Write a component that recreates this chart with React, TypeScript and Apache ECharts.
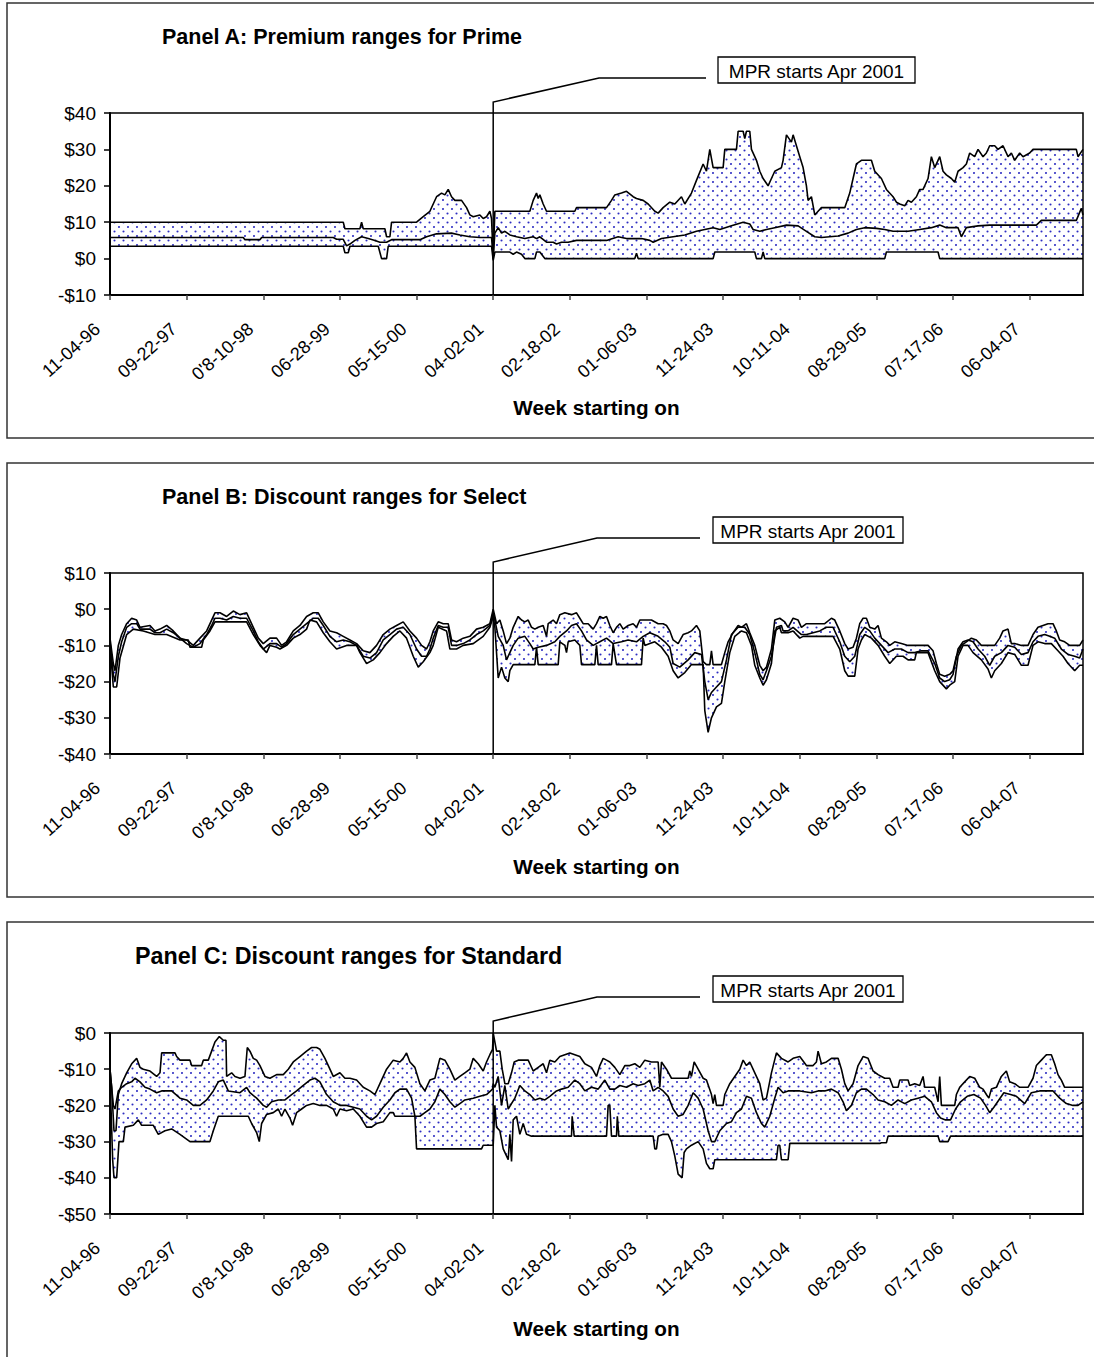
import React, { useEffect, useRef } from 'react';
import * as echarts from 'echarts';

// ---------- data ----------
const xLabels = ['11-04-96', '09-22-97', "0'8-10-98", '06-28-99', '05-15-00', '04-02-01', '02-18-02', '01-06-03', '11-24-03', '10-11-04', '08-29-05', '07-17-06', '06-04-07'];
const weeksPerLabel = 46;
const lastWeek = 584;
const mprWeek = 230;

type P = [number, number][];

const aUpper: P = [[0,10],[140,10],[141,8.2],[150,8.2],[151,10],[152,8.2],[165,8.2],[166,6],[168,6],[169,10],[184,10],[188,11.5],[192,13],[196,17],[199,18],[201,17.5],[203,19],[205,17],[207,16],[211,16],[214,14],[216,12],[218,11.5],[222,12],[224,11],[226,11.5],[228,13],[229,11],[230,0],[231,13],[252,13],[254,16],[256,18],[257,16.5],[258,17.5],[260,15],[262,13],[279,13],[280,14],[298,14],[301,16],[303,17.5],[307,18],[310,18.5],[314,17],[316,16.5],[320,16],[323,15],[327,13],[329,12.5],[332,14],[336,15.5],[339,15],[343,17],[345,15],[349,18],[352,21.5],[356,26],[358,24],[360,30],[362,25],[368,25],[369,30],[376,30],[377,35],[380,35],[381,33],[382,35],[384,35],[385,30],[388,27],[390,24],[392,22],[395,20],[397,22],[399,24],[403,25],[404,27],[406,34],[409,32],[410,34],[412,31],[414,28],[416,25],[418,20],[419,16],[421,17],[423,12],[425,13],[427,14],[441,14],[444,18],[446,22],[448,26],[451,27],[457,27],[459,24],[463,22],[466,19],[470,17],[472,15.5],[474,15],[477,14.5],[479,16],[481,15.5],[484,17],[486,19],[488,19],[491,22],[493,28],[495,25],[498,28],[500,24],[502,23],[505,22],[507,21],[509,24],[512,25],[514,26],[516,29],[519,28],[521,30],[524,28],[526,29],[528,31],[531,31],[533,30],[536,31],[539,28],[541,29],[543,27],[546,29],[548,28],[552,29],[554,30],[580,30],[581,28],[584,30]];
const aMid: P = [[0,5.8],[80,5.8],[81,5.2],[90,5.2],[91,5.8],[134,5.8],[136,5.3],[140,5.3],[142,3.5],[144,4],[147,5],[151,6],[155,5.5],[159,5],[162,4.5],[166,4.5],[169,5.2],[186,5.2],[190,6],[196,6.8],[205,7],[210,6.5],[216,6],[222,5.8],[229,5.8],[230,0.5],[231,7],[233,8.5],[235,7],[237,7.5],[240,6.5],[244,6],[249,5.5],[254,6],[256,5.5],[258,6],[262,4.5],[266,4.5],[268,4],[271,4.5],[275,4.5],[280,5],[298,5],[305,6],[310,5.5],[319,5.5],[324,5],[326,4.5],[331,5.5],[338,6],[345,6.5],[352,7.5],[362,8.5],[366,8],[373,9],[380,10],[384,9.5],[386,8],[390,7.5],[394,8],[399,8.5],[406,9.2],[413,9],[418,7.5],[423,6],[427,5.8],[437,6.2],[443,7],[448,8],[453,8.5],[460,8.3],[465,8],[470,7.5],[479,7.5],[486,8],[493,8.5],[498,9.2],[502,8.5],[509,8.5],[511,6],[514,8.5],[521,9],[528,9.2],[556,9.2],[559,10.5],[580,10.5],[583,13.8],[584,12]];
const aLower: P = [[0,3.4],[140,3.4],[141,1.6],[143,1.6],[144,3.4],[161,3.4],[163,0],[166,0],[167,3.4],[229,3.4],[230,-0.5],[231,1.8],[240,1.8],[242,1.2],[244,1.8],[247,1.2],[249,0],[255,0],[256,1.8],[258,1.8],[261,0],[315,0],[316,1.5],[317,0],[362,0],[363,1.8],[387,1.8],[388,0],[391,0],[392,1.8],[393,0],[465,0],[466,1.8],[497,1.8],[498,0],[584,0]];

const bUpper: P = [[0,-8],[2,-15],[3,-17],[5,-10],[7,-7],[10,-4],[13,-2.5],[16,-3],[18,-5],[24,-4.5],[27,-6],[30,-5.5],[34,-4.5],[38,-6],[42,-8],[46,-8.5],[50,-10],[54,-8],[58,-6],[61,-3],[63,-1],[66,-1],[70,-2],[74,-0.5],[78,-1.5],[82,-1],[86,-5],[89,-8],[92,-9.5],[96,-8],[100,-8],[103,-10],[106,-9],[110,-6],[114,-4.5],[118,-2],[122,-1],[125,-1],[128,-3.5],[132,-6],[136,-6.5],[140,-7.5],[144,-8.5],[148,-9.5],[152,-11.5],[156,-12],[160,-10],[164,-7],[168,-5.5],[172,-4.5],[176,-3.5],[180,-6],[184,-8],[187,-10],[190,-11],[192,-9],[194,-6],[197,-3.5],[200,-4],[203,-4],[205,-8.5],[208,-9],[212,-8],[216,-7.5],[220,-5.5],[224,-5],[228,-4],[230,0],[232,-4],[234,-3],[236,-6],[238,-9.5],[240,-8],[242,-5],[245,-2],[247,-3],[249,-3.5],[251,-3],[253,-5],[255,-5.5],[257,-5],[260,-4.5],[262,-7.5],[263,-4],[266,-3],[268,-4],[270,-1.5],[273,-1],[277,-1.5],[280,-1],[282,-2.5],[284,-4],[287,-4],[290,-5.5],[292,-4],[294,-2],[296,-2.5],[298,-2],[300,-4.5],[302,-6.5],[304,-5],[306,-4],[308,-5.5],[311,-4.5],[314,-4],[316,-5],[318,-3],[321,-3],[325,-3],[329,-4],[332,-4],[334,-4.5],[336,-6],[338,-8.5],[341,-9.5],[344,-7],[347,-6.5],[349,-6],[352,-4.5],[354,-6],[356,-14.5],[358,-15.3],[360,-15.3],[361,-11.5],[362,-15.3],[367,-15.3],[369,-12],[371,-9],[374,-6.5],[377,-4.5],[379,-5],[382,-4],[384,-6.5],[387,-10],[390,-15.5],[392,-17],[394,-16],[397,-11],[399,-3],[402,-2.5],[405,-3.5],[407,-5],[410,-2.5],[413,-3],[415,-5],[418,-4],[421,-4],[425,-4],[429,-4],[433,-2.5],[435,-3],[438,-6],[441,-9.5],[443,-11],[446,-10.5],[448,-8],[450,-4],[452,-2.5],[454,-2.5],[456,-5],[459,-5.5],[461,-4.5],[463,-8],[466,-9],[468,-10],[471,-9],[475,-9.5],[479,-10],[491,-10],[494,-11.5],[496,-15],[498,-18],[501,-18.5],[504,-18],[506,-17],[508,-13],[511,-10],[514,-9],[517,-8],[520,-8.5],[523,-10],[531,-10],[534,-8],[536,-6],[539,-5.5],[541,-9.5],[543,-9.5],[547,-10],[551,-10],[554,-7],[557,-5],[560,-4.5],[563,-4],[566,-4],[568,-6],[570,-8.5],[573,-9],[576,-10],[582,-10],[584,-8.5]];
const bMid: P = [[0,-9],[2,-18],[3,-20],[5,-13],[7,-9],[10,-5],[13,-4],[16,-4],[18,-5.5],[24,-5.5],[27,-6.5],[30,-6.5],[34,-5.5],[38,-6.5],[42,-8],[46,-9.5],[50,-10.5],[54,-9.5],[58,-7],[61,-4.5],[63,-2.5],[66,-2.5],[70,-3],[74,-2],[78,-2.5],[82,-2.5],[86,-6],[89,-9],[92,-11],[96,-9.5],[100,-9.5],[103,-10.5],[106,-9.5],[110,-7],[114,-5.5],[118,-4],[122,-2.5],[125,-2.5],[128,-4.5],[132,-7.5],[136,-9],[140,-8.5],[144,-9],[148,-10],[152,-13],[156,-13.5],[160,-12],[164,-8.5],[168,-7],[172,-5.5],[176,-5],[180,-7],[184,-11],[187,-13],[190,-13],[192,-11],[194,-8],[197,-4.5],[200,-5],[203,-5],[205,-10],[208,-10],[212,-9.5],[216,-8.5],[220,-7],[224,-6],[228,-4.5],[230,-1],[231,-3],[233,-7.5],[236,-10],[238,-14],[240,-12],[242,-10],[245,-8],[249,-7.5],[252,-9.5],[254,-11],[257,-10.5],[262,-10],[267,-9],[270,-7.5],[274,-6],[277,-4.5],[280,-4],[283,-6],[286,-8.5],[290,-10],[294,-9],[298,-8],[302,-9.5],[307,-9],[311,-8.5],[316,-9],[320,-7.5],[324,-6.5],[329,-7.5],[333,-9],[336,-10.5],[338,-15],[342,-16],[347,-14],[351,-12],[355,-12.5],[357,-20],[359,-25],[361,-23],[364,-21.5],[367,-20],[370,-14],[373,-7],[377,-5],[381,-5],[384,-7],[387,-12],[390,-18],[392,-19.5],[394,-17],[397,-13],[400,-5],[403,-4.5],[404,-6],[407,-6],[410,-5],[415,-7],[418,-7],[422,-6.5],[426,-6],[430,-5],[434,-5],[438,-9],[441,-13],[444,-14.5],[447,-13],[450,-7],[453,-5],[456,-6],[459,-8],[463,-10],[467,-12],[471,-11],[475,-11],[479,-12],[483,-12],[487,-11.5],[491,-11.5],[495,-15],[498,-19],[501,-20],[504,-19.5],[506,-18],[509,-11],[512,-9],[515,-8.5],[518,-9],[521,-11],[525,-13],[528,-15.5],[531,-13],[535,-12],[539,-10],[543,-10.5],[547,-12.5],[551,-12],[554,-9],[557,-7.5],[561,-7],[564,-7.5],[567,-8],[571,-11],[575,-12.5],[579,-13],[582,-13.5],[584,-11]];
const bLower: P = [[0,-10],[2,-21.5],[4,-21.5],[6,-13.5],[10,-7],[14,-5.5],[20,-6],[27,-7],[34,-7],[42,-8.5],[47,-8.5],[48,-10.5],[55,-10.5],[56,-8.5],[60,-6],[63,-3.5],[82,-3.5],[86,-7],[90,-10],[94,-12],[96,-10],[100,-10.5],[102,-11],[106,-10],[110,-8],[114,-7],[118,-5.5],[120,-3],[124,-3.5],[128,-6.5],[132,-9],[136,-11],[142,-10],[148,-10],[150,-12],[154,-15],[158,-14],[162,-12],[166,-9.5],[170,-7.5],[174,-6],[178,-8],[182,-13],[185,-16],[188,-14.5],[192,-12],[194,-10],[197,-5],[202,-6],[204,-11],[208,-11],[212,-10],[218,-9.5],[224,-7.5],[228,-5],[230,-2],[231,-5],[233,-19],[235,-16],[237,-19],[239,-20],[240,-17],[242,-15.3],[255,-15.3],[256,-10.5],[257,-15.3],[269,-15.3],[270,-9],[273,-10],[274,-12],[275,-9],[279,-8.5],[282,-10],[283,-15.3],[291,-15.3],[292,-10],[293,-15.3],[301,-15.3],[302,-9.5],[304,-15.3],[319,-15.3],[320,-8],[321,-10],[324,-9.5],[327,-9],[331,-10.5],[335,-13],[338,-17],[341,-19],[345,-17.5],[349,-15.3],[356,-15.3],[357,-28],[359,-34],[361,-30],[364,-27],[367,-26],[369,-20],[372,-12],[375,-7.5],[379,-6],[382,-6.5],[385,-10],[387,-15.5],[390,-19],[392,-21],[394,-19.5],[397,-15],[399,-6],[402,-5],[403,-6.5],[407,-6.5],[410,-6],[414,-8],[416,-7.5],[434,-7.5],[438,-11],[441,-17],[443,-18.5],[447,-18.5],[449,-11],[451,-8.5],[453,-7],[457,-8],[461,-10],[465,-13],[468,-15],[472,-13],[476,-13],[479,-14],[483,-14],[484,-12],[491,-12],[495,-17],[498,-20],[502,-22],[504,-21],[507,-20],[509,-13],[512,-10],[515,-10],[518,-12],[523,-14],[527,-16.5],[529,-19],[531,-17],[535,-15],[539,-12],[543,-12.5],[547,-15.5],[551,-15.5],[554,-10],[557,-9],[561,-9.5],[565,-9.5],[568,-11],[572,-13],[575,-15],[579,-17],[582,-15.5],[584,-15.5]];

const cUpper: P = [[0,-10],[1,-15],[2.4,-27],[3.6,-27],[5,-17],[7,-14],[10,-11],[13,-8.5],[16,-7],[18,-9.5],[20,-10],[24,-10.5],[28,-12],[30,-11],[31,-5.5],[39,-5.5],[40,-6.5],[42,-7.5],[48,-7.5],[49,-9],[55,-9],[56,-7.5],[59,-7.5],[61,-5],[63,-2.5],[65.6,-1],[68,-2],[69.6,-2],[70,-12],[73,-11],[75,-12],[78,-12.5],[81,-12],[82.4,-4],[84,-5],[86,-7],[88,-7.5],[90,-9],[93,-12],[96,-12.5],[100,-11.5],[104,-11.5],[107,-10],[110,-8],[114,-6.5],[118,-5],[121,-4],[124,-4],[126,-4.5],[129,-7],[132,-10],[134,-12],[138,-11],[141,-12.5],[144,-12.5],[148,-13],[152,-15],[156,-16],[159,-17],[162,-14],[166,-10],[170,-7.5],[174,-8],[176,-7],[178,-5.5],[180,-8],[183,-9.5],[186,-14],[189,-16],[192,-13],[195,-12.5],[198,-7],[201,-7.5],[204,-10],[207,-13],[210,-12],[213,-11],[216,-10],[218,-7],[221,-8.5],[224,-10.5],[226,-8],[228,-6],[229.6,-4.5],[230,0],[232,-5],[234,-5],[235.4,-10],[237,-14],[239,-14],[241,-11],[242.6,-8],[245,-7.5],[251,-7.5],[254,-10.5],[257,-9.5],[260,-8.5],[262,-11],[264,-7.5],[267,-8],[270,-6.5],[273,-6],[276,-5.5],[279,-6],[282,-6.5],[285,-8.5],[289,-9.5],[292,-12],[294,-9],[296,-7],[298,-7.5],[300,-8],[303,-9.5],[306,-11.5],[309,-9],[312,-9],[315,-8.5],[318,-9.5],[321,-7.5],[325,-8],[329,-8],[330,-15],[331,-8],[334,-10],[337,-12.5],[347,-12.5],[348,-10.5],[349,-12],[350.6,-8],[353,-10],[356,-12.5],[358,-13],[361,-17],[362,-19.5],[363,-17],[364,-20],[368,-20],[369,-17],[372,-14],[375,-12],[378,-10],[380,-7.5],[382,-9],[384,-8],[387,-11],[390,-14],[392,-18.5],[394,-18],[397,-11],[400,-5.5],[403,-7],[407,-8],[410,-7],[414,-6.5],[418,-9],[422,-9],[424,-8],[425,-5],[427,-8.5],[430,-8],[433,-7],[437,-7],[439,-10],[441,-14],[443,-16],[446,-14],[449,-9],[452,-6.5],[455,-7],[458,-10.5],[461,-11.5],[465,-12.5],[468,-12.5],[470,-15],[473,-15],[474,-13],[479,-13],[480,-14.5],[483,-14],[486,-14.5],[488,-12],[489,-15],[495,-15],[497,-19],[498,-12],[499,-20],[507,-20],[508,-17],[510,-15],[513,-13.5],[516,-12],[519,-12.5],[522,-15],[524,-15.5],[526,-17],[527.5,-18],[529,-15.5],[532,-15],[535,-12],[538,-10.5],[540,-13.5],[543,-14],[546,-15],[551,-15],[554,-12.5],[556,-9],[559,-7.5],[562,-6],[565,-6],[567,-8.5],[569,-11.5],[571,-13],[573,-15],[584,-15]];
const cMid: P = [[0,-10],[2,-20],[3,-21],[5,-16],[7,-15],[10,-14],[13,-13.5],[15,-12.5],[18,-13.5],[21,-15],[24,-15.5],[28,-16.5],[31,-16],[37,-16],[42,-18],[46,-18.5],[50,-20],[54,-20],[58,-18.5],[62,-16],[65,-13.5],[68,-13],[71,-16],[78,-16.5],[82,-15],[84,-16.5],[88,-18],[92,-20],[94,-20.5],[97,-19],[101,-18.5],[105,-18.5],[109,-17],[112,-16],[116,-14.5],[120,-13],[123,-12.5],[126,-13.5],[130,-17],[134,-19],[138,-20],[142,-20],[146,-20.5],[150,-21],[154,-23],[157,-24],[160,-23],[164,-20.5],[168,-18.5],[171,-16.5],[174,-15.5],[178,-15.5],[181,-18],[183,-23],[186,-23],[189,-22],[192,-21],[195,-19],[198,-15.5],[201,-17],[204,-19],[207,-20.5],[210,-19.5],[213,-18.5],[218,-18],[222,-17.5],[226,-17],[229.6,-15.5],[230,-14],[231,-15],[233,-12],[235,-20],[237,-14.5],[239,-21],[243,-18],[246,-14.5],[249,-16],[252,-17],[255,-18.5],[258,-18],[261,-18.5],[264,-17.5],[268,-16],[271,-15.5],[275,-15],[279,-13],[282,-14],[285,-16],[289,-15],[293,-15.5],[297,-13],[300,-15.5],[303,-15.5],[306,-14.5],[310,-15],[314,-14],[317,-14.5],[321,-14],[324,-13],[326,-16],[329,-15],[332,-16],[335,-17.5],[338,-21],[341,-23],[344,-22.5],[347,-20],[350,-16.5],[353,-18],[356,-21],[359,-27],[361,-30],[363,-30],[366,-27],[370,-25],[373,-24.5],[376,-22],[379,-21],[382,-17.5],[385,-18],[388,-22],[391,-25],[393,-26],[396,-23],[399,-18],[401,-15],[404,-16.5],[407,-16],[414,-16],[421,-16.5],[425,-16],[429,-16],[433,-15.5],[437,-16.5],[440,-19],[442,-21.5],[445,-20],[448,-16.5],[451,-15.5],[454,-15.5],[458,-17],[461,-18.5],[465,-19],[469,-20],[473,-18.5],[477,-19.5],[481,-18.5],[485,-18],[489,-17.5],[493,-19],[496,-22],[498.5,-23.5],[501.5,-24],[504.5,-24],[507.5,-21],[510.5,-19],[514.5,-17.5],[518.5,-17],[522.5,-18],[525.5,-20],[528,-22],[530.5,-20.5],[533.5,-18.5],[536.5,-16.5],[540.5,-17],[544,-17.5],[549,-19.5],[553,-16.5],[558,-16],[562,-16],[566,-16],[570,-18],[574,-19.5],[578,-20],[581,-20],[584,-19]];
const cLower: P = [[0,-12],[1.6,-35],[2.4,-40],[4,-40],[5.4,-30],[8,-30],[9,-26],[14,-25.5],[17,-24],[19,-25.5],[26,-25.5],[29,-28],[33,-27],[37,-26.5],[42,-28],[48,-30],[60,-30],[62,-27],[65,-23],[83,-23],[85,-25],[88,-27.5],[89.6,-30],[91,-25],[94,-22.5],[98,-22],[101,-21],[103,-23],[105,-21],[108,-23.5],[109.6,-25.5],[112,-22],[115,-21],[118,-20],[122,-19.5],[126,-20],[130,-20],[134,-21],[136,-23],[138,-21],[142,-21.5],[146,-21],[150,-23],[154,-26],[157,-26],[160,-25],[164,-24.5],[168,-22],[170,-22],[171,-23],[183,-23],[184,-32],[223,-32],[224,-31],[230,-31],[231,-20],[232,-26],[234,-27],[236,-32],[239,-35],[240,-28],[241,-35.5],[242,-24],[244,-23],[246,-28],[248,-25],[250,-28],[253,-28.5],[277,-28.5],[277.4,-23],[278.6,-28.5],[298,-28.5],[299,-20],[300,-20],[301,-28.5],[304,-28.5],[304.5,-23],[305.4,-28.5],[326,-28.5],[327,-32],[328,-32],[329,-28.5],[332,-28],[335,-28],[337,-30],[339,-34],[341,-39],[343.4,-40],[344.6,-33],[346,-32],[349,-31],[353,-30],[356,-32],[358,-36],[360,-37.5],[362,-37.5],[363,-35],[400,-35],[401,-31],[402,-31],[403,-35],[407,-35],[408,-30.5],[462,-30.5],[463,-30.3],[466,-30.3],[467,-28.5],[497,-28.5],[498,-30],[503,-30],[504.5,-28.5],[584,-28.5]];

const panelTitles = ['Panel A: Premium ranges for Prime', 'Panel B: Discount ranges for Select', 'Panel C: Discount ranges for Standard'];
const yRanges: [number, number][] = [[-10, 40], [-40, 10], [-50, 0]];
const annotationText = 'MPR starts Apr 2001';
const xAxisTitle = 'Week starting on';

// ---------- layout ----------
const FONT = '"Liberation Sans", Arial, Helvetica, sans-serif';
const GRID_LEFT = 110;
const GRID_WIDTH = 973;
const layout = [
  { top: 113, h: 182, boxY: 3, boxH: 435, titleX: 162, titleY: 37, titleSize: 21.5, annX: 718, annY: 57, annW: 197, annH: 26, leadY: 78, leadX1: 706, leadX0: 599, vTop: 102, axisTitleY: 407 },
  { top: 573, h: 181, boxY: 463, boxH: 434, titleX: 162, titleY: 497, titleSize: 21.5, annX: 713, annY: 517, annW: 190, annH: 26, leadY: 538, leadX1: 700, leadX0: 597, vTop: 562, axisTitleY: 866 },
  { top: 1033, h: 181, boxY: 922, boxH: 440, titleX: 135, titleY: 956, titleSize: 23.3, annX: 713, annY: 976, annW: 190, annH: 26, leadY: 997, leadX1: 700, leadX0: 597, vTop: 1021, axisTitleY: 1328 },
];

function money(v: number): string {
  return v < 0 ? '-$' + Math.abs(v) : '$' + v;
}

export default function App() {
  const ref = useRef<HTMLDivElement | null>(null);

  useEffect(() => {
    if (!ref.current) return;
    const chart = echarts.init(ref.current, undefined, { renderer: 'svg' });

    const cv = document.createElement('canvas');
    cv.width = 9;
    cv.height = 9;
    const ctx = cv.getContext('2d');
    if (ctx) {
      ctx.fillStyle = '#2e2ec2';
      ctx.beginPath(); ctx.arc(2, 2, 1.05, 0, Math.PI * 2); ctx.fill();
      ctx.beginPath(); ctx.arc(6.5, 6.5, 1.05, 0, Math.PI * 2); ctx.fill();
    }
    const dots: any = { image: cv.toDataURL(), repeat: 'repeat', imageWidth: 9, imageHeight: 9 };

    const panelsData: [P, P, P][] = [[aUpper, aMid, aLower], [bUpper, bMid, bLower], [cUpper, cMid, cLower]];
    const tickVals = xLabels.map((_, i) => i * weeksPerLabel);

    const grids = layout.map((l) => ({
      left: GRID_LEFT, top: l.top, width: GRID_WIDTH, height: l.h,
      show: true, borderColor: '#000', borderWidth: 1.5, backgroundColor: 'transparent', z: 5,
    }));

    const xAxes = layout.map((_, i) => ({
      type: 'value', gridIndex: i, min: 0, max: lastWeek, interval: weeksPerLabel, z: 6,
      axisLine: { show: true, onZero: false, lineStyle: { color: '#000', width: 2 } },
      axisTick: { show: true, length: 5, customValues: tickVals, lineStyle: { color: '#444', width: 1.5 } },
      axisLabel: {
        customValues: tickVals, rotate: 42, margin: 20, padding: [0, 17, 0, 0],
        fontSize: 18, fontFamily: FONT, color: '#000',
        formatter: (v: number) => xLabels[Math.round(v / weeksPerLabel)] ?? '',
      },
      splitLine: { show: false },
    }));

    const yAxes = yRanges.map(([mn, mx], i) => ({
      type: 'value', gridIndex: i, min: mn, max: mx, interval: 10, z: 6,
      axisLine: { show: true, onZero: false, lineStyle: { color: '#000', width: 2 } },
      axisTick: { show: true, length: 6, lineStyle: { color: '#000', width: 1.5 } },
      axisLabel: { margin: 14, fontSize: 19, fontFamily: FONT, color: '#000', formatter: (v: number) => money(v) },
      splitLine: { show: false },
    }));

    const series: any[] = [];
    panelsData.forEach(([up, mid, lo], i) => {
      const base = { type: 'line', xAxisIndex: i, yAxisIndex: i, symbol: 'none', showSymbol: false, silent: true };
      series.push({ ...base, data: up, z: 1, lineStyle: { width: 0, opacity: 0 }, areaStyle: { color: dots, opacity: 1, origin: 'start' } });
      series.push({ ...base, data: lo, z: 2, lineStyle: { width: 0, opacity: 0 }, areaStyle: { color: '#ffffff', opacity: 1, origin: 'start' } });
      [up, mid, lo].forEach((d) => {
        series.push({ ...base, data: d, z: 3, lineStyle: { color: '#000', width: 1.6 } });
      });
    });

    chart.setOption({
      animation: false,
      backgroundColor: '#ffffff',
      grid: grids,
      xAxis: xAxes,
      yAxis: yAxes,
      series,
    });

    const graphic: any[] = [];
    layout.forEach((l, i) => {
      const xv = chart.convertToPixel({ xAxisIndex: i } as any, mprWeek) as unknown as number;
      const yb = chart.convertToPixel({ yAxisIndex: i } as any, yRanges[i][0]) as unknown as number;
      graphic.push({
        type: 'rect', z: 100, silent: true,
        shape: { x: 7, y: l.boxY, width: 1100, height: l.boxH },
        style: { fill: 'none', stroke: '#333', lineWidth: 1.5 },
      });
      graphic.push({
        type: 'text', z: 100, silent: true, x: l.titleX, y: l.titleY,
        style: { text: panelTitles[i], fill: '#000', fontSize: l.titleSize, fontWeight: 'bold', fontFamily: FONT, align: 'left', verticalAlign: 'middle', textAlign: 'left', textVerticalAlign: 'middle' },
      });
      graphic.push({
        type: 'rect', z: 100, silent: true,
        shape: { x: l.annX, y: l.annY, width: l.annW, height: l.annH },
        style: { fill: '#fff', stroke: '#000', lineWidth: 1.3 },
      });
      graphic.push({
        type: 'text', z: 101, silent: true, x: l.annX + l.annW / 2, y: l.annY + l.annH / 2 + 1,
        style: { text: annotationText, fill: '#000', fontSize: 19, fontFamily: FONT, align: 'center', verticalAlign: 'middle', textAlign: 'center', textVerticalAlign: 'middle' },
      });
      graphic.push({
        type: 'polyline', z: 100, silent: true,
        shape: { points: [[l.leadX1, l.leadY], [l.leadX0, l.leadY], [xv, l.vTop], [xv, yb]] },
        style: { fill: 'none', stroke: '#000', lineWidth: 1.5 },
      });
      graphic.push({
        type: 'text', z: 100, silent: true, x: GRID_LEFT + GRID_WIDTH / 2, y: l.axisTitleY,
        style: { text: xAxisTitle, fill: '#000', fontSize: 20.7, fontWeight: 'bold', fontFamily: FONT, align: 'center', verticalAlign: 'middle', textAlign: 'center', textVerticalAlign: 'middle' },
      });
    });
    chart.setOption({ graphic });

    return () => {
      chart.dispose();
    };
  }, []);

  return <div ref={ref} style={{ position: 'absolute', left: 0, top: 0, width: 1094, height: 1357, background: '#fff' }} />;
}
